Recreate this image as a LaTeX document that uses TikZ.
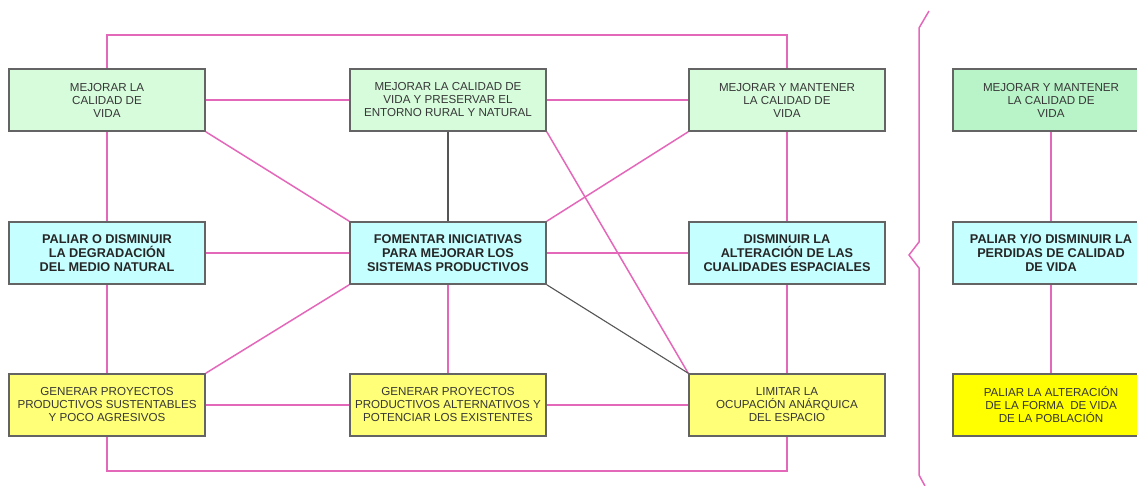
\documentclass[tikz,border=0pt]{standalone}
\usepackage{fontspec}
\setmainfont{Liberation Sans}

\definecolor{linkpink}{RGB}{228,104,186}
\definecolor{linkgray}{RGB}{85,85,85}
\definecolor{boxgray}{RGB}{100,100,100}
\definecolor{textgray}{RGB}{55,55,55}
\definecolor{mint}{RGB}{214,252,219}
\definecolor{mintdark}{RGB}{184,244,199}
\definecolor{skyblue}{RGB}{198,255,255}
\definecolor{lemon}{RGB}{255,255,120}
\definecolor{lemondark}{RGB}{255,255,0}

\begin{document}
\begin{tikzpicture}[x=1pt, y=-1pt]
\useasboundingbox (0,0) rectangle (1137,486);

\coordinate (P1_1) at (107, 100);
\coordinate (P1_2) at (448, 100);
\coordinate (P1_3) at (787, 100);
\coordinate (P1_4) at (1051, 100);
\coordinate (P2_1) at (107, 253);
\coordinate (P2_2) at (448, 253);
\coordinate (P2_3) at (787, 253);
\coordinate (P2_4) at (1051, 253);
\coordinate (P3_1) at (107, 405);
\coordinate (P3_2) at (448, 405);
\coordinate (P3_3) at (787, 405);
\coordinate (P3_4) at (1051, 405);


\tikzset{BoxStyle/.style = {
 shape = rectangle,
 draw = boxgray,
 line width = 1.6pt,
 text = textgray,
 inner sep = 0pt,
 minimum width = 196pt,
 minimum height = 62pt,
 align = center,
 font = \fontsize{11.6}{13}\selectfont} }
\tikzset{BoldBoxStyle/.style = {BoxStyle, text = black!85,
 font = \fontsize{12.7}{14}\selectfont\bfseries} }

\node[BoxStyle, fill=mint] (N1_1) at (P1_1) {MEJORAR LA\\CALIDAD DE\\VIDA};
\node[BoxStyle, fill=mint] (N1_2) at (P1_2) {MEJORAR LA CALIDAD DE\\VIDA Y PRESERVAR EL\\ENTORNO RURAL Y NATURAL};
\node[BoxStyle, fill=mint] (N1_3) at (P1_3) {MEJORAR Y MANTENER\\LA CALIDAD DE\\VIDA};
\node[BoxStyle, fill=mintdark] (N1_4) at (P1_4) {MEJORAR Y MANTENER\\LA CALIDAD DE\\VIDA};
\node[BoldBoxStyle, fill=skyblue] (N2_1) at (P2_1) {PALIAR O DISMINUIR\\LA DEGRADACIÓN\\DEL MEDIO NATURAL};
\node[BoldBoxStyle, fill=skyblue] (N2_2) at (P2_2) {FOMENTAR INICIATIVAS\\PARA MEJORAR LOS\\SISTEMAS PRODUCTIVOS};
\node[BoldBoxStyle, fill=skyblue] (N2_3) at (P2_3) {DISMINUIR LA\\ALTERACIÓN DE LAS\\CUALIDADES ESPACIALES};
\node[BoldBoxStyle, fill=skyblue] (N2_4) at (P2_4) {PALIAR Y/O DISMINUIR LA\\PERDIDAS DE CALIDAD\\DE VIDA};
\node[BoxStyle, fill=lemon] (N3_1) at (P3_1) {GENERAR PROYECTOS\\PRODUCTIVOS SUSTENTABLES\\Y POCO AGRESIVOS};
\node[BoxStyle, fill=lemon] (N3_2) at (P3_2) {GENERAR PROYECTOS\\PRODUCTIVOS ALTERNATIVOS Y\\POTENCIAR LOS EXISTENTES};
\node[BoxStyle, fill=lemon] (N3_3) at (P3_3) {LIMITAR LA\\OCUPACIÓN ANÁRQUICA\\DEL ESPACIO};
\node[BoxStyle, fill=lemondark] (N3_4) at (P3_4) {PALIAR LA ALTERACIÓN\\DE LA FORMA\ \ DE VIDA\\DE LA POBLACIÓN};


\tikzset{LinkStyle/.style = {draw=linkpink, line width=1.5pt} }
\tikzset{GrayLinkStyle/.style = {draw=linkgray, line width=1.1pt} }

\coordinate (T1) at (107, 35);
\coordinate (T3) at (787, 35);
\coordinate (B1) at (107, 471);
\coordinate (B3) at (787, 471);

% outer frame
\draw[LinkStyle] (N1_1.north) -- (T1) -- (T3) -- (N1_3.north);
\draw[LinkStyle] (N3_1.south) -- (B1) -- (B3) -- (N3_3.south);

% rows
\draw[LinkStyle] (N1_1) -- (N1_2);
\draw[LinkStyle] (N1_2) -- (N1_3);
\draw[LinkStyle] (N2_1) -- (N2_2);
\draw[LinkStyle] (N2_2) -- (N2_3);
\draw[LinkStyle] (N3_1) -- (N3_2);
\draw[LinkStyle] (N3_2) -- (N3_3);

% columns
\draw[LinkStyle] (N1_1) -- (N2_1);
\draw[LinkStyle] (N2_1) -- (N3_1);
\draw[GrayLinkStyle] (N1_2) -- (N2_2);
\draw[LinkStyle] (N2_2) -- (N3_2);
\draw[LinkStyle] (N1_3) -- (N2_3);
\draw[LinkStyle] (N2_3) -- (N3_3);
\draw[LinkStyle] (N1_4) -- (N2_4);
\draw[LinkStyle] (N2_4) -- (N3_4);

% diagonals
\draw[LinkStyle] (N1_1.south east) -- (N2_2.north west);
\draw[LinkStyle] (N1_3.south west) -- (N2_2.north east);
\draw[LinkStyle] (N2_2.south west) -- (N3_1.north east);
\draw[LinkStyle] (N1_2.south east) -- (N3_3.north west);
\draw[GrayLinkStyle] (N2_2.south east) -- (N3_3.north west);

% brace
\coordinate (K1) at (929, 11);
\coordinate (K2) at (919, 28);
\coordinate (K3) at (919, 242);
\coordinate (K4) at (909, 255);
\coordinate (K5) at (919, 268);
\coordinate (K6) at (919, 475);
\coordinate (K7) at (925, 486);
\draw[LinkStyle] (K1) -- (K2) -- (K3) -- (K4) -- (K5) -- (K6) -- (K7);

\end{tikzpicture}
\end{document}
